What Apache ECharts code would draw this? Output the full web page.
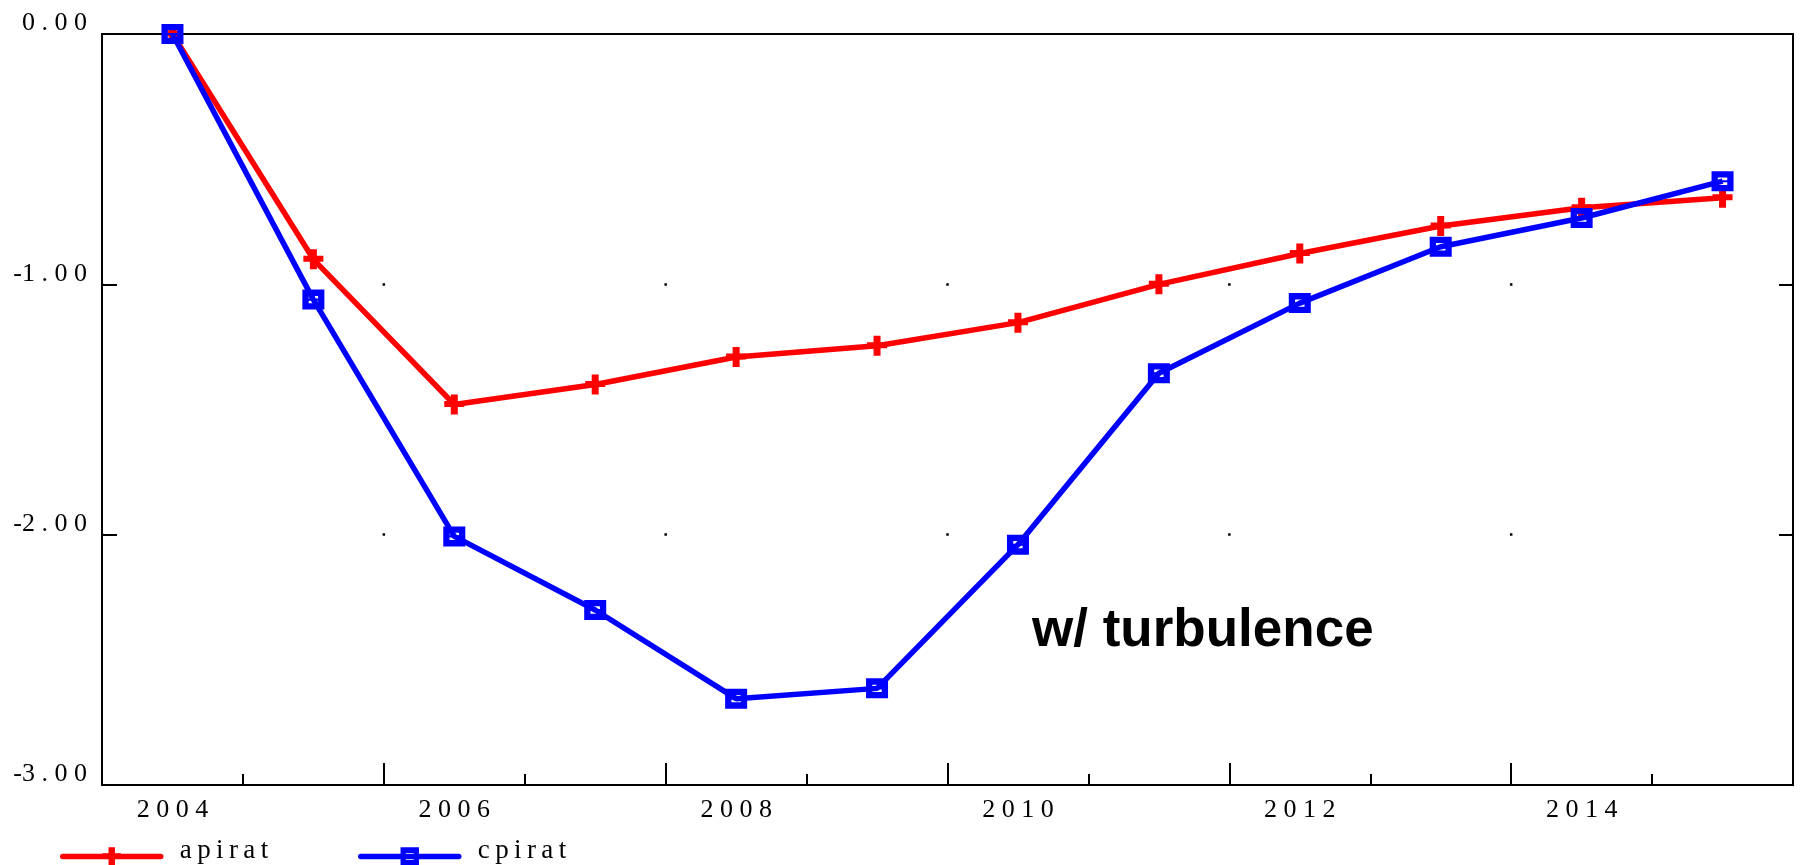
<!DOCTYPE html>
<html>
<head>
<meta charset="utf-8">
<script src="https://cdn.jsdelivr.net/npm/echarts@6/dist/echarts.min.js"></script>
<style>
  html, body { margin: 0; padding: 0; background: #fff; }
  #chart { width: 1800px; height: 865px; }
</style>
</head>
<body>
<div id="chart"></div>
<script>
// Years on the horizontal axis
const years = ['2004', '2005', '2006', '2007', '2008', '2009', '2010', '2011', '2012', '2013', '2014', '2015'];

// Response paths
const apirat = [0.00, -0.90, -1.48, -1.40, -1.29, -1.245, -1.153, -1.00, -0.877, -0.767, -0.694, -0.654];
const cpirat = [0.00, -1.061, -2.007, -2.301, -2.655, -2.614, -2.04, -1.355, -1.075, -0.85, -0.735, -0.588];

// Vertical axis range and step
const yMin = -3;
const yMax = 0;
const yStep = 1;

const annotation = 'w/ turbulence';

// Wide-tracked serif labels
const spaced = (s, sep) => String(s).split('').join(sep);
const yLabel = v => {
  const txt = v.toFixed(2);
  if (txt[0] === '-') return '-' + spaced(txt.slice(1), ' ');
  return spaced(txt, ' ');
};

const W = 1800, H = 865;
const gridLeft = 102, gridRight = 7, gridTop = 34, gridBottom = 80;
const plotWidth = W - gridLeft - gridRight;
const catWidth = plotWidth / years.length;
const dotPeriod = catWidth * 2;

const serif = 'Liberation Serif';
const plusPath = 'path://M6.5,0H13.5V6.5H20V12.5H13.5V20H6.5V12.5H0V6.5H6.5Z';
const boxPath = 'path://M0,0H21V19H0Z M6,6V8.5H15V6Z M6,10.5V13H15V10.5Z';

const chart = echarts.init(document.getElementById('chart'), null, { renderer: 'canvas' });

const axisLineStyle = { color: '#000', width: 2 };
const gridBox = { left: gridLeft, right: gridRight, top: gridTop, bottom: gridBottom };

const legendText = {
  color: '#000',
  padding: [0, 0, 12, 14],
  rich: { t: { fontFamily: serif, fontSize: 27, color: '#000' } }
};
const legendLabel = n => '{t|' + spaced(n, '\u2009') + '}';

const legendBase = {
  top: 837, padding: 0,
  itemWidth: 98, itemHeight: 23,
  lineStyle: { width: 5.5, cap: 'round' },
  textStyle: legendText,
  formatter: legendLabel
};

const option = {
  animation: false,
  backgroundColor: '#fff',
  grid: [
    Object.assign({ show: true, borderColor: '#000', borderWidth: 2, backgroundColor: 'transparent' }, gridBox),
    Object.assign({ show: false }, gridBox)
  ],
  legend: [
    Object.assign({ data: ['apirat'], left: 60 }, legendBase),
    Object.assign({ data: ['cpirat'], left: 358 }, legendBase)
  ],
  xAxis: [
    {
      type: 'category',
      gridIndex: 0,
      data: years,
      boundaryGap: true,
      position: 'bottom',
      axisLine: { show: true, onZero: false, lineStyle: axisLineStyle },
      axisTick: { show: true, inside: true, length: 22, interval: 1, lineStyle: axisLineStyle },
      axisLabel: {
        interval: 1, margin: 12, color: '#000',
        fontFamily: serif, fontSize: 26,
        formatter: v => spaced(v, ' ')
      },
      splitLine: { show: false }
    },
    {
      // short ticks at every year boundary
      type: 'category',
      gridIndex: 1,
      data: years,
      boundaryGap: true,
      position: 'bottom',
      axisLine: { show: false, onZero: false },
      axisTick: { show: true, inside: true, length: 11, interval: 0, lineStyle: axisLineStyle },
      axisLabel: { show: false },
      splitLine: { show: false }
    }
  ],
  yAxis: [
    {
      type: 'value',
      gridIndex: 0,
      min: yMin, max: yMax, interval: yStep,
      position: 'left',
      axisLine: { show: true, onZero: false, lineStyle: axisLineStyle },
      axisTick: { show: true, inside: true, length: 15, lineStyle: axisLineStyle },
      axisLabel: {
        margin: 15, color: '#000',
        fontFamily: serif, fontSize: 26,
        verticalAlign: 'bottom', lineHeight: 21,
        formatter: yLabel
      },
      splitLine: {
        show: true,
        showMinLine: false,
        showMaxLine: false,
        lineStyle: { color: '#000', width: 2.5, type: [2.5, dotPeriod - 2.5], dashOffset: 1.25 }
      }
    },
    {
      type: 'value',
      gridIndex: 0,
      min: yMin, max: yMax, interval: yStep,
      position: 'right',
      axisLine: { show: true, onZero: false, lineStyle: axisLineStyle },
      axisTick: { show: true, inside: true, length: 14, lineStyle: axisLineStyle },
      axisLabel: { show: false },
      splitLine: { show: false }
    },
    {
      type: 'value',
      gridIndex: 1,
      min: yMin, max: yMax, interval: yStep,
      show: false
    }
  ],
  series: [
    {
      name: 'apirat',
      type: 'line',
      data: apirat,
      xAxisIndex: 0, yAxisIndex: 0,
      symbol: plusPath,
      symbolSize: [20, 20],
      showAllSymbol: true,
      lineStyle: { color: '#ff0000', width: 5.5 },
      itemStyle: { color: '#ff0000', borderWidth: 0 },
      z: 2
    },
    {
      name: 'cpirat',
      type: 'line',
      data: cpirat,
      xAxisIndex: 0, yAxisIndex: 0,
      symbol: boxPath,
      symbolSize: [22, 20],
      showAllSymbol: true,
      lineStyle: { color: '#0000ff', width: 5.5 },
      itemStyle: { color: '#0000ff', borderWidth: 0 },
      z: 3
    }
  ],
  graphic: [
    {
      type: 'text',
      left: 1032,
      top: 605,
      style: {
        text: annotation,
        font: 'bold 53px "Liberation Sans", Arial, sans-serif',
        fill: '#000'
      }
    }
  ]
};

chart.setOption(option);
</script>
</body>
</html>
